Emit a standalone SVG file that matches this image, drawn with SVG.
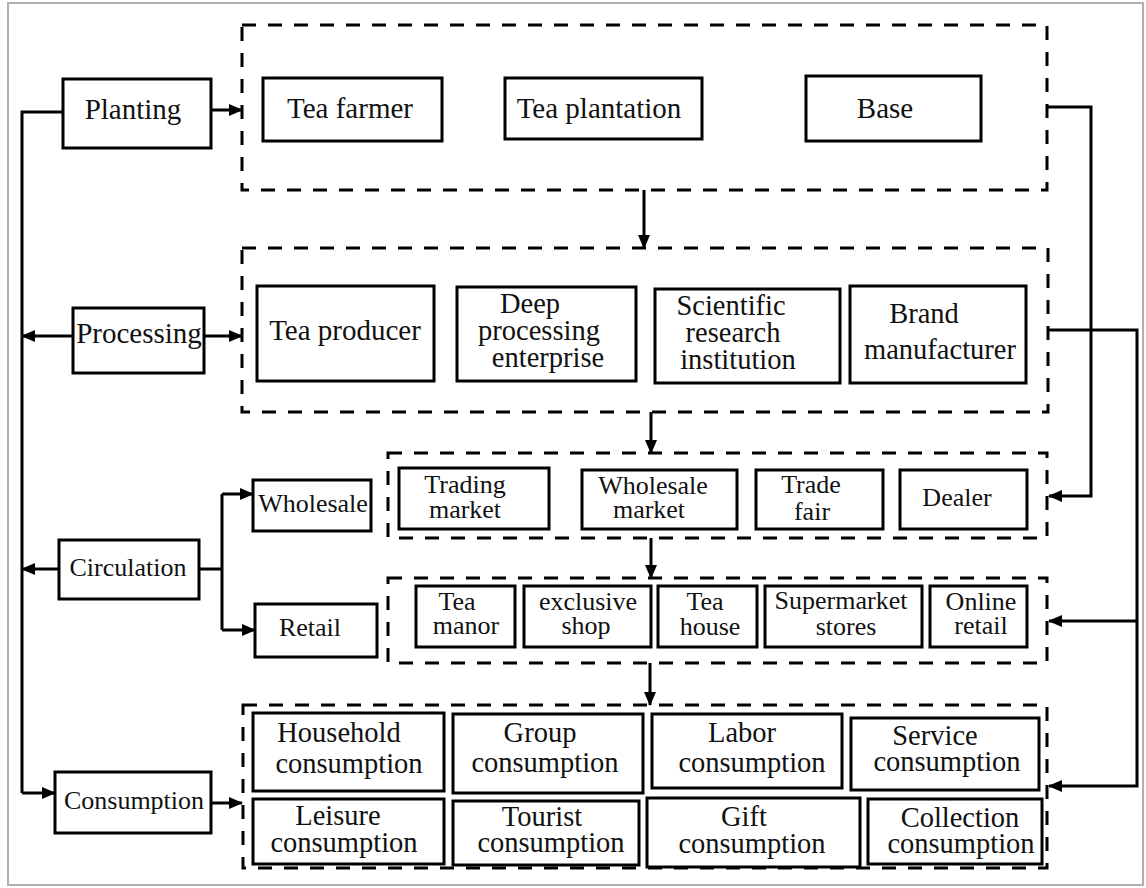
<svg xmlns="http://www.w3.org/2000/svg" width="1146" height="888" viewBox="0 0 1146 888">
<defs>
<marker id="ah" markerUnits="userSpaceOnUse" markerWidth="14" markerHeight="14" refX="13" refY="7" orient="auto">
<path d="M0,1 L14,7 L0,13 z" fill="#000"/>
</marker>
<style>
.box{fill:#fff;stroke:#000;stroke-width:3}
.grp{fill:none;stroke:#000;stroke-width:3;stroke-dasharray:14 12}
.ln{fill:none;stroke:#000;stroke-width:3}
.ar{fill:none;stroke:#000;stroke-width:3;marker-end:url(#ah)}
.t{font-family:'Liberation Serif','Times New Roman','Nimbus Roman','DejaVu Serif',serif;fill:#111;text-anchor:middle}
.a{font-size:29px}
.b{font-size:28.5px}
.c{font-size:26px}
</style>
</defs>
<rect x="0" y="0" width="1146" height="888" fill="#fff"/>
<rect x="8" y="3" width="1135" height="882" fill="none" stroke="#b0b0b0" stroke-width="2"/>

<g id="containers">
<rect id="grp-planting" class="grp" x="242" y="25" width="805" height="165"/>
<rect id="grp-processing" class="grp" x="242" y="248" width="806" height="164"/>
<rect id="grp-wholesale" class="grp" x="388" y="453" width="659" height="85"/>
<rect id="grp-retail" class="grp" x="388" y="578" width="659" height="85"/>
<rect id="grp-consumption" class="grp" x="243" y="705" width="804" height="163"/>
</g>

<g id="connectors">
<path class="ln" d="M63,112 H22 V793"/>
<path class="ar" d="M22,793 H55"/>
<path class="ar" d="M211,110 H242"/>
<path class="ar" d="M73,336 H22"/>
<path class="ar" d="M204,336 H242"/>
<path class="ar" d="M59,569 H22"/>
<path class="ln" d="M199,569 H222 M222,494 V630"/>
<path class="ar" d="M222,494 H253"/>
<path class="ar" d="M222,630 H255"/>
<path class="ar" d="M211,803 H242"/>
<path class="ar" d="M644,190 V248"/>
<path class="ar" d="M651,412 V453"/>
<path class="ar" d="M651,538 V578"/>
<path class="ar" d="M650,663 V705"/>
<path class="ar" d="M1047,107 H1091 V496 H1049"/>
<path class="ar" d="M1048,330 H1137 V786 H1049"/>
<path class="ar" d="M1137,621 H1049"/>
</g>

<g font-family="'Liberation Serif','Times New Roman',serif">
<g id="planting"><rect class="box" x="63" y="79" width="148" height="69"/><text class="t a" x="133" y="119">Planting</text></g>
<g id="processing"><rect class="box" x="73" y="308" width="131" height="65"/><text class="t a" x="139" y="343">Processing</text></g>
<g id="circulation"><rect class="box" x="59" y="540" width="140" height="59"/><text class="t c" x="128" y="576">Circulation</text></g>
<g id="wholesale"><rect class="box" x="253" y="480" width="118" height="51"/><text class="t c" x="313" y="512">Wholesale</text></g>
<g id="retail"><rect class="box" x="255" y="604" width="122" height="53"/><text class="t c" x="310" y="636">Retail</text></g>
<g id="consumption"><rect class="box" x="55" y="772" width="156" height="61"/><text class="t c" x="134" y="809">Consumption</text></g>

<g id="tea-farmer"><rect class="box" x="263" y="78" width="179" height="63"/><text class="t a" x="350" y="118">Tea farmer</text></g>
<g id="tea-plantation"><rect class="box" x="505" y="78" width="197" height="61"/><text class="t a" x="599" y="118">Tea plantation</text></g>
<g id="base"><rect class="box" x="806" y="76" width="175" height="65"/><text class="t a" x="885" y="118">Base</text></g>

<g id="tea-producer"><rect class="box" x="257" y="286" width="177" height="95"/><text class="t a" x="345" y="340">Tea producer</text></g>
<g id="deep-processing"><rect class="box" x="457" y="287" width="179" height="94"/><text class="t b"><tspan x="530" y="313">Deep</tspan><tspan x="539" y="340">processing</tspan><tspan x="548" y="367">enterprise</tspan></text></g>
<g id="scientific"><rect class="box" x="655" y="289" width="185" height="94"/><text class="t b"><tspan x="731" y="315">Scientific</tspan><tspan x="733" y="342">research</tspan><tspan x="738" y="369">institution</tspan></text></g>
<g id="brand"><rect class="box" x="850" y="286" width="176" height="97"/><text class="t b"><tspan x="924" y="323">Brand</tspan><tspan x="940" y="359">manufacturer</tspan></text></g>

<g id="trading-market"><rect class="box" x="399" y="468" width="150" height="61"/><text class="t c"><tspan x="465" y="493">Trading</tspan><tspan x="465" y="518">market</tspan></text></g>
<g id="wholesale-market"><rect class="box" x="582" y="470" width="155" height="59"/><text class="t c"><tspan x="653" y="494">Wholesale</tspan><tspan x="649" y="518">market</tspan></text></g>
<g id="trade-fair"><rect class="box" x="756" y="470" width="127" height="59"/><text class="t c"><tspan x="811" y="493">Trade</tspan><tspan x="812" y="520">fair</tspan></text></g>
<g id="dealer"><rect class="box" x="900" y="470" width="127" height="59"/><text class="t c" x="957" y="506">Dealer</text></g>

<g id="tea-manor"><rect class="box" x="416" y="586" width="99" height="61"/><text class="t c"><tspan x="457" y="610">Tea</tspan><tspan x="466" y="634">manor</tspan></text></g>
<g id="exclusive-shop"><rect class="box" x="524" y="586" width="127" height="61"/><text class="t c"><tspan x="588" y="610">exclusive</tspan><tspan x="586" y="634">shop</tspan></text></g>
<g id="tea-house"><rect class="box" x="658" y="586" width="99" height="61"/><text class="t c"><tspan x="705" y="610">Tea</tspan><tspan x="710" y="635">house</tspan></text></g>
<g id="supermarket"><rect class="box" x="765" y="586" width="157" height="61"/><text class="t c"><tspan x="841" y="609">Supermarket</tspan><tspan x="846" y="635">stores</tspan></text></g>
<g id="online-retail"><rect class="box" x="930" y="586" width="97" height="61"/><text class="t c"><tspan x="981" y="610">Online</tspan><tspan x="981" y="634">retail</tspan></text></g>

<g id="household"><rect class="box" x="253" y="713" width="191" height="78"/><text class="t b"><tspan x="339" y="742">Household</tspan><tspan x="349" y="773">consumption</tspan></text></g>
<g id="group"><rect class="box" x="453" y="714" width="190" height="79"/><text class="t b"><tspan x="540" y="742">Group</tspan><tspan x="545" y="772">consumption</tspan></text></g>
<g id="labor"><rect class="box" x="652" y="714" width="190" height="74"/><text class="t b"><tspan x="742" y="742">Labor</tspan><tspan x="752" y="772">consumption</tspan></text></g>
<g id="service"><rect class="box" x="851" y="718" width="188" height="72"/><text class="t b"><tspan x="935" y="745">Service</tspan><tspan x="947" y="771">consumption</tspan></text></g>
<g id="leisure"><rect class="box" x="253" y="799" width="191" height="65"/><text class="t b"><tspan x="338" y="825">Leisure</tspan><tspan x="344" y="852">consumption</tspan></text></g>
<g id="tourist"><rect class="box" x="453" y="801" width="186" height="64"/><text class="t b"><tspan x="542" y="826">Tourist</tspan><tspan x="551" y="852">consumption</tspan></text></g>
<g id="gift"><rect class="box" x="647" y="798" width="213" height="69"/><text class="t b"><tspan x="744" y="826">Gift</tspan><tspan x="752" y="853">consumption</tspan></text></g>
<g id="collection"><rect class="box" x="868" y="799" width="174" height="65"/><text class="t b"><tspan x="960" y="827">Collection</tspan><tspan x="961" y="853">consumption</tspan></text></g>
</g>
</svg>
